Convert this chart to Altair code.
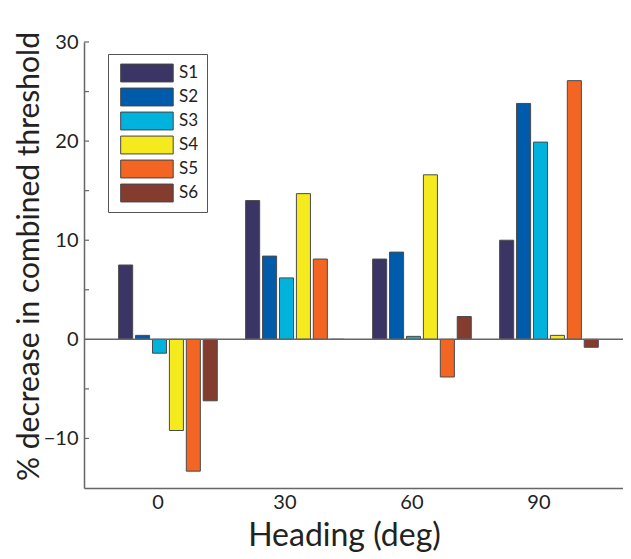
import altair as alt
import pandas as pd

headings = ["0", "30", "60", "90"]
subjects = ["S1", "S2", "S3", "S4", "S5", "S6"]
s1 = [7.5, 14.0, 8.1, 10.0]
s2 = [0.4, 8.4, 8.8, 23.8]
s3 = [-1.4, 6.2, 0.3, 19.9]
s4 = [-9.2, 14.7, 16.6, 0.4]
s5 = [-13.3, 8.1, -3.8, 26.1]
s6 = [-6.2, 0.0, 2.3, -0.8]
colors = ["#3b3565", "#005bab", "#00b2dc", "#f5ea1e", "#f26522", "#843c2e"]
tick_values = [-10, -5, 5, 10, 15, 20, 25, 30]
label_values = [-10, 0, 10, 20, 30]

rows = []
for s, vals in zip(subjects, [s1, s2, s3, s4, s5, s6]):
    for h, v in zip(headings, vals):
        rows.append({"heading": h, "subject": s, "value": v})
df = pd.DataFrame(rows)

FONT = "Lato"
W, H = 539, 446
AX = "#666666"

yscale = alt.Scale(domain=[-15, 30], nice=False)
yaxis = alt.Axis(
    title="% decrease in combined threshold", values=label_values,
    ticks=False, grid=False, domainColor=AX, domainWidth=1.5,
    labelFont=FONT, labelFontSize=20, labelColor="#222", labelPadding=6,
    titleFont=FONT, titleFontSize=30, titleFontWeight="normal", titleColor="#222",
    titleAngle=270, titleX=-55, titleY=214, titleAlign="center", titleBaseline="middle",
)

bars = alt.Chart(df).mark_bar(stroke="#4a4a4a", strokeWidth=1).encode(
    x=alt.X(
        "heading:N", sort=headings,
        scale=alt.Scale(paddingInner=0.21, paddingOuter=0.227, align=0.586),
        axis=alt.Axis(
            title="Heading (deg)", labelAngle=0, ticks=False, grid=False,
            domainColor=AX, domainWidth=1.5, labelOffset=-10,
            labelFont=FONT, labelFontSize=20, labelColor="#222", labelPadding=4,
            titleFont=FONT, titleFontSize=32, titleFontWeight="normal", titleColor="#222",
            titleX=260, titleY=47, titleBaseline="middle", titleAlign="center",
        ),
    ),
    xOffset=alt.XOffset("subject:N", sort=subjects,
                        scale=alt.Scale(paddingInner=0.17, paddingOuter=0.05)),
    y=alt.Y("value:Q", scale=yscale, axis=yaxis),
    color=alt.Color(
        "subject:N",
        scale=alt.Scale(domain=subjects, range=colors),
        legend=alt.Legend(
            title=None, orient="none", legendX=24, legendY=12,
            strokeColor="#555", fillColor="white", padding=8,
            symbolType="M-0.6,-0.85L4.4,-0.85L4.4,0.85L-0.6,0.85Z", symbolSize=441,
            symbolStrokeColor="#444", symbolStrokeWidth=1, symbolOpacity=1,
            labelFont=FONT, labelFontSize=17, labelColor="#222", labelOffset=41,
            rowPadding=2,
        ),
    ),
)

zero = alt.Chart(pd.DataFrame({"value": [0]})).mark_rule(color=AX, strokeWidth=1.5).encode(
    y=alt.Y("value:Q", scale=yscale, axis=yaxis)
)

ticks = alt.Chart(pd.DataFrame({"value": tick_values})).mark_rule(color=AX, strokeWidth=1.2).encode(
    y=alt.Y("value:Q", scale=yscale, axis=yaxis), x=alt.value(0), x2=alt.value(5)
)

chart = alt.layer(bars, zero, ticks).properties(
    width=W, height=H,
    autosize=alt.AutoSizeParams(type="none"),
    padding={"left": 76, "top": 34, "right": 0, "bottom": 70},
).configure_view(stroke=None)

chart.save("out.html", embed_options={"renderer": "svg", "actions": False})
